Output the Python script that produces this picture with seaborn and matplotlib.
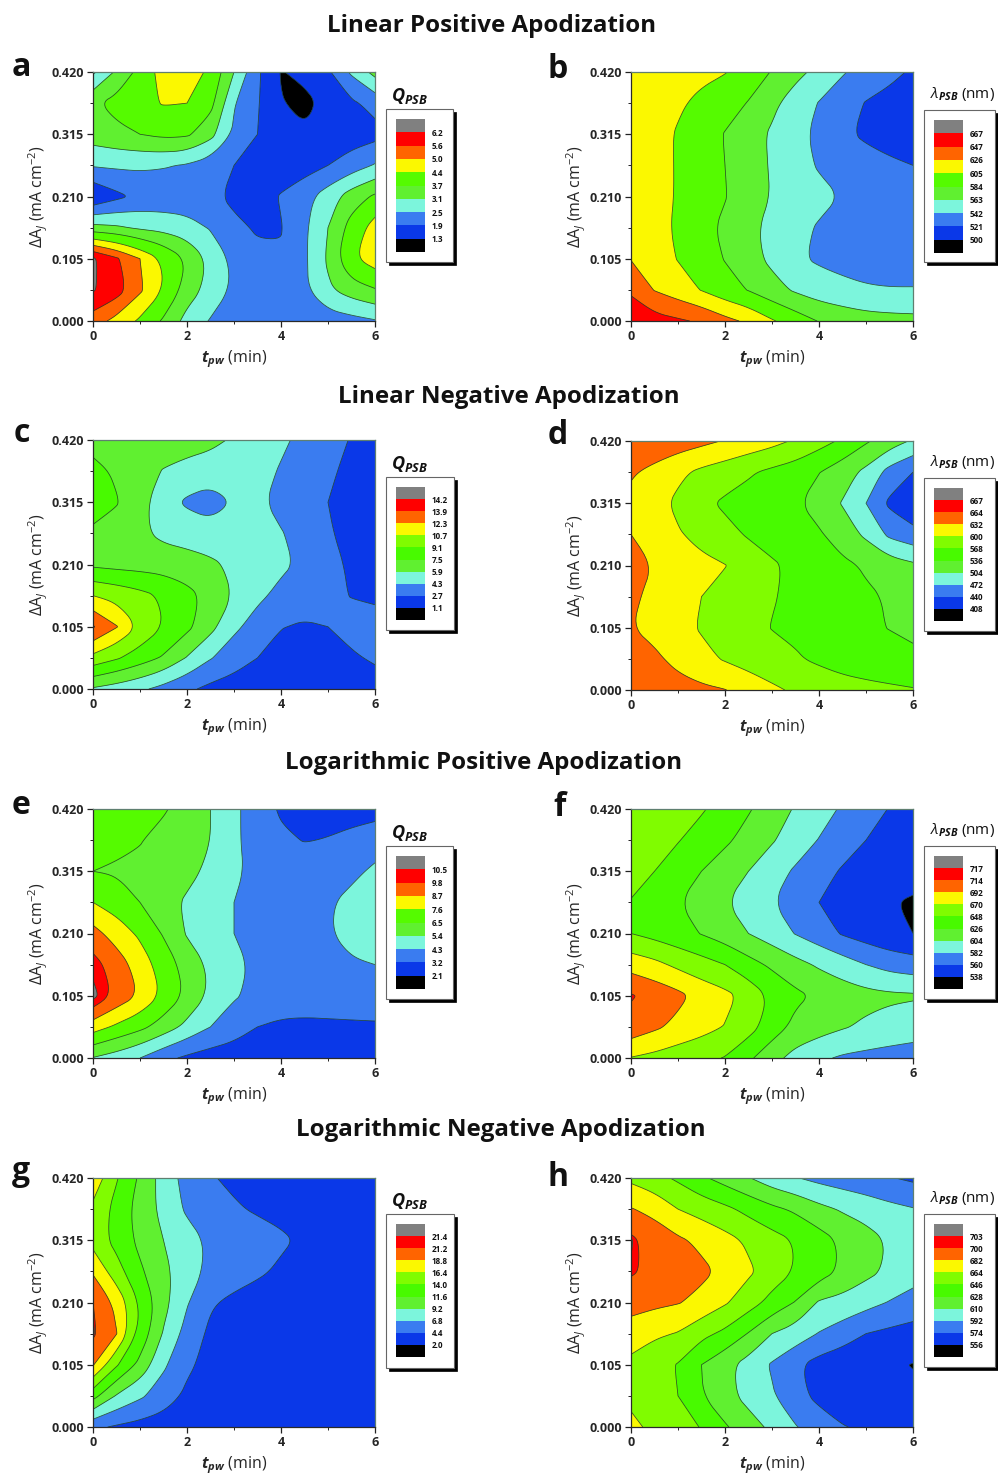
import numpy as np
import matplotlib
matplotlib.use("Agg")
import matplotlib.pyplot as plt
from matplotlib.colors import ListedColormap
from matplotlib.patches import Rectangle
from matplotlib.path import Path
from matplotlib.ticker import MultipleLocator, FixedLocator
import seaborn as sns

FONT = "Open Sans"

t_pw = [0, 0.5, 1, 1.5, 2, 2.5, 3, 3.5, 4, 4.5, 5, 5.5, 6]
delta_a = [0.42, 0.3675, 0.315, 0.2625, 0.21, 0.1575, 0.105, 0.0525, 0.0]
y_ticks = [0.0, 0.105, 0.21, 0.315, 0.42]
x_ticks = [0, 2, 4, 6]

# each grid: rows from 0.420 down to 0.000, columns t_pw 0..6
q_a = [
    [2.4, 3.2, 3.9, 4.7, 4.9, 4.2, 3.1, 2.0, 1.27, 1.45, 1.8, 2.6, 3.3],
    [3.6, 3.9, 4.2, 4.45, 4.4, 3.9, 2.55, 1.95, 1.33, 1.15, 1.45, 1.8, 2.1],
    [3.4, 3.55, 3.7, 3.85, 3.8, 3.3, 2.4, 1.9, 1.5, 1.38, 1.55, 1.6, 1.7],
    [2.55, 2.6, 2.6, 2.55, 2.45, 2.2, 1.9, 1.7, 1.55, 1.65, 1.9, 2.2, 2.55],
    [1.35, 1.75, 2.05, 2.1, 2.1, 2.0, 1.8, 1.6, 1.95, 2.3, 2.8, 3.4, 3.8],
    [3.3, 3.2, 3.0, 2.9, 2.75, 2.45, 2.0, 1.85, 1.87, 2.4, 3.1, 3.95, 4.7],
    [6.3, 5.7, 5.0, 4.3, 3.65, 2.95, 2.35, 2.0, 1.95, 2.4, 3.2, 4.3, 4.75],
    [6.25, 5.9, 5.1, 4.4, 3.4, 2.9, 2.4, 2.1, 2.1, 2.4, 3.0, 3.4, 3.65],
    [5.3, 4.8, 4.3, 3.6, 2.9, 2.45, 2.2, 2.1, 2.1, 2.15, 2.2, 2.3, 2.45],
]
lam_b = [
    [618, 615, 612, 610, 606, 594, 583, 569, 557, 544, 533, 525, 519],
    [622, 615, 608, 600, 592, 583, 568, 553, 541, 529, 520, 516, 513],
    [622, 613, 603, 594, 583, 572, 560, 547, 538, 524, 518, 514, 512],
    [623, 614, 603, 593, 584, 572, 561, 550, 540, 533, 528, 524, 521],
    [623, 614, 603, 594, 585, 573, 562, 556, 548, 541, 536, 533, 531],
    [625, 614, 601, 590, 580, 568, 557, 548, 540, 535, 532, 530, 529],
    [625, 615, 604, 594, 583, 571, 558, 545, 539, 536, 534, 533, 533],
    [644, 625, 615, 604, 592, 583, 571, 560, 552, 547, 544, 543, 543],
    [660, 655, 650, 644, 632, 622, 607, 595, 583, 577, 572, 570, 569],
]
q_c = [
    [7.0, 6.9, 6.9, 6.8, 6.7, 6.3, 5.7, 5.1, 4.5, 4.0, 3.3, 2.6, 2.4],
    [7.9, 7.3, 6.6, 5.8, 5.3, 5.1, 5.0, 4.7, 4.2, 3.6, 2.9, 2.4, 2.3],
    [8.0, 7.6, 6.4, 5.0, 4.05, 3.55, 4.4, 4.6, 3.8, 3.4, 2.7, 2.3, 2.2],
    [7.3, 6.9, 6.2, 5.5, 5.2, 5.0, 4.9, 4.7, 4.4, 3.7, 2.8, 2.4, 2.3],
    [7.2, 7.0, 6.9, 6.8, 6.6, 6.2, 5.6, 5.1, 4.6, 4.0, 3.1, 2.5, 2.35],
    [10.7, 10.2, 9.6, 8.9, 8.0, 7.0, 5.8, 4.6, 3.9, 3.3, 3.0, 2.65, 2.45],
    [14.05, 12.4, 10.5, 9.1, 7.9, 6.4, 4.6, 3.7, 2.75, 2.55, 2.7, 3.2, 3.3],
    [10.2, 9.3, 8.3, 7.3, 5.8, 4.4, 3.5, 2.7, 2.2, 1.9, 2.1, 2.5, 2.9],
    [5.7, 5.2, 4.6, 3.8, 3.0, 2.3, 1.9, 1.7, 1.6, 1.6, 1.7, 1.9, 2.0],
]
lam_d = [
    [660, 654, 648, 640, 630, 620, 610, 596, 580, 563, 540, 520, 500],
    [636, 623, 607, 593, 583, 572, 561, 552, 537, 518, 496, 460, 440],
    [622, 612, 593, 575, 563, 555, 548, 540, 522, 502, 472, 434, 412],
    [632, 618, 603, 590, 577, 565, 553, 544, 540, 520, 498, 465, 452],
    [650, 630, 618, 608, 601, 585, 573, 560, 553, 543, 532, 520, 510],
    [637, 625, 612, 600, 590, 578, 570, 562, 555, 548, 541, 533, 527],
    [633, 622, 610, 597, 587, 578, 567, 562, 555, 548, 541, 535, 528],
    [650, 638, 623, 609, 597, 588, 579, 571, 563, 556, 552, 548, 544],
    [655, 650, 644, 638, 633, 618, 606, 595, 586, 580, 576, 573, 570],
]
q_e = [
    [6.9, 6.9, 6.8, 6.6, 6.1, 5.4, 4.5, 3.8, 3.05, 2.8, 2.8, 2.9, 3.0],
    [6.9, 6.7, 6.55, 6.2, 5.8, 5.4, 4.5, 3.8, 3.4, 3.15, 3.25, 3.4, 3.5],
    [6.5, 6.4, 6.3, 6.1, 5.8, 5.1, 4.5, 4.0, 3.9, 3.85, 3.85, 3.9, 4.6],
    [7.6, 7.1, 6.5, 5.9, 5.2, 4.8, 4.3, 3.95, 3.9, 3.95, 4.1, 4.8, 5.0],
    [9.1, 8.2, 7.4, 6.4, 5.3, 4.8, 4.3, 3.95, 3.9, 3.95, 4.15, 4.9, 5.15],
    [10.2, 9.3, 8.2, 7.1, 6.1, 5.2, 4.55, 4.1, 3.95, 3.9, 3.9, 4.1, 4.3],
    [10.8, 9.5, 8.6, 7.4, 6.3, 5.2, 4.4, 4.05, 3.95, 3.9, 3.9, 3.9, 3.85],
    [8.1, 7.4, 6.8, 6.0, 5.1, 4.3, 3.8, 3.2, 2.95, 2.9, 2.95, 3.0, 3.05],
    [5.35, 4.9, 4.3, 3.5, 3.0, 2.7, 2.5, 2.4, 2.35, 2.35, 2.35, 2.4, 2.4],
]
lam_f = [
    [669, 664, 659, 650, 640, 628, 615, 602, 592, 579, 570, 559, 555],
    [663, 658, 649, 640, 630, 618, 606, 594, 581, 569, 560, 552, 548],
    [655, 648, 638, 626, 614, 604, 591, 579, 567, 558, 549, 544, 548],
    [647, 638, 627, 616, 605, 594, 583, 571, 560, 553, 548, 539.5, 535],
    [648, 641, 634, 625, 615, 604, 593, 581, 570, 558, 550, 543, 538],
    [683, 676, 665, 657, 648, 634, 622, 611, 601, 592, 582, 574, 570],
    [716, 707, 698, 684, 676, 663, 644, 631, 622, 616, 611, 608, 607],
    [706, 696, 686, 678, 669, 657, 637, 620, 613, 606, 600, 595, 589],
    [669, 664, 658, 653, 647, 630, 612, 596, 586, 579, 576, 574, 575],
]
q_g = [
    [18.0, 14.2, 11.2, 8.2, 5.9, 4.6, 3.9, 3.6, 3.4, 3.3, 3.2, 3.2, 3.2],
    [15.8, 13.2, 10.6, 8.5, 6.4, 5.6, 4.7, 4.1, 3.7, 3.4, 3.3, 3.2, 3.2],
    [15.5, 13.2, 11.0, 9.2, 7.9, 6.3, 5.9, 5.5, 4.8, 4.0, 3.5, 3.3, 3.2],
    [18.5, 15.0, 12.0, 9.8, 7.9, 6.2, 5.6, 4.8, 4.0, 3.5, 3.3, 3.2, 3.2],
    [21.2, 18.2, 13.8, 10.0, 7.0, 4.7, 3.8, 3.3, 3.1, 3.1, 3.1, 3.1, 3.1],
    [21.6, 18.9, 13.3, 9.0, 5.9, 3.9, 3.3, 3.1, 3.0, 3.0, 3.0, 3.0, 3.0],
    [19.0, 14.3, 10.9, 7.2, 4.9, 3.5, 3.0, 2.9, 2.9, 2.9, 2.9, 2.9, 2.9],
    [12.5, 9.0, 7.2, 5.6, 3.9, 3.1, 2.9, 2.9, 2.9, 2.9, 2.9, 2.9, 2.9],
    [4.9, 4.1, 3.6, 3.2, 2.9, 2.8, 2.8, 2.8, 2.8, 2.8, 2.8, 2.8, 2.8],
]
lam_h = [
    [660, 652, 643, 631, 621, 611, 600, 593, 587, 583, 580, 575, 571],
    [683, 677, 664, 657, 650, 641, 632, 625, 615, 608, 602, 597, 593],
    [704, 692, 685, 678, 670, 661, 653, 645, 636, 625, 618, 608, 602],
    [702, 696, 690, 686, 678, 667, 656, 645, 637, 625, 615, 607, 600],
    [690, 686, 683, 677, 666, 654, 640, 627, 608, 604, 598, 591, 585],
    [672, 667, 663, 651, 642, 627, 610, 602, 591, 583, 574, 570, 567],
    [660, 652, 645, 628, 615, 603, 590, 577, 567, 562, 560, 558, 555.5],
    [660, 652, 646, 629, 616, 604, 594, 580, 569, 563, 561, 560, 559],
    [668, 660, 654, 645, 630, 618, 606, 593, 584, 575, 571, 568, 566],
]

levels_a = [1.3, 1.9, 2.5, 3.1, 3.7, 4.4, 5.0, 5.6, 6.2]
levels_b = [500, 521, 542, 563, 584, 605, 626, 647, 667]
levels_c = [1.1, 2.7, 4.3, 5.9, 7.5, 9.1, 10.7, 12.3, 13.9, 14.2]
levels_d = [408, 440, 472, 504, 536, 568, 600, 632, 664, 667]
levels_e = [2.1, 3.2, 4.3, 5.4, 6.5, 7.6, 8.7, 9.8, 10.5]
levels_f = [538, 560, 582, 604, 626, 648, 670, 692, 714, 717]
levels_g = [2.0, 4.4, 6.8, 9.2, 11.6, 14.0, 16.4, 18.8, 21.2, 21.4]
levels_h = [556, 574, 592, 610, 628, 646, 664, 682, 700, 703]

colors_10 = ["#000000", "#0A38E8", "#3A7CF0", "#7CF5DC", "#60F030", "#55FB00",
             "#FBF800", "#FF6400", "#FF0000", "#808080"]
colors_11 = ["#000000", "#0A38E8", "#3A7CF0", "#7CF5DC", "#60F030", "#48FA00", "#80FC00",
             "#FBF800", "#FF6400", "#FF0000", "#808080"]

titles = ["Linear Positive Apodization", "Linear Negative Apodization",
          "Logarithmic Positive Apodization", "Logarithmic Negative Apodization"]
title_pos = [(492, 26), (509, 397), (484, 763), (501, 1130)]

W, H = 998, 1479


def fx(px):
    return px / W


def fy(px):
    return 1 - px / H


def cut_corners(v, closed):
    # corner cutting that leaves points on the plot frame where they are
    on_frame = (np.abs(v[:, 0]) < 1e-6) | (np.abs(v[:, 0] - 6) < 1e-6) \
        | (np.abs(v[:, 1]) < 1e-6) | (np.abs(v[:, 1] - 0.42) < 1e-6)
    out = []
    n = len(v)
    for i in range(n):
        if on_frame[i] or (not closed and i in (0, n - 1)):
            out.append(v[i])
            continue
        out.append(0.75 * v[i] + 0.25 * v[(i - 1) % n])
        out.append(0.75 * v[i] + 0.25 * v[(i + 1) % n])
    return np.array(out)


def rounded(path, passes=3):
    if path.codes is None or len(path.vertices) < 3:
        return path
    starts = np.flatnonzero(path.codes == Path.MOVETO)
    verts, codes = [], []
    for idx in np.split(np.arange(len(path.vertices)), starts[1:]):
        v = path.vertices[idx]
        closed = path.codes[idx[-1]] == Path.CLOSEPOLY or np.allclose(v[0], v[-1])
        if closed:
            v = v[:-1]
        if len(v) >= 3:
            for _ in range(passes):
                v = cut_corners(v, closed)
        if closed:
            v = np.vstack([v, v[:1]])
        c = np.full(len(v), Path.LINETO)
        c[0] = Path.MOVETO
        if closed:
            c[-1] = Path.CLOSEPOLY
        verts.append(v)
        codes.append(c)
    return Path(np.vstack(verts), np.concatenate(codes))


def panel(fig, letter, grid, levels, box, letter_pos, left, top, kind):
    ax = fig.add_axes([fx(left), fy(top + 249), 282 / W, 249 / H])
    colors = colors_11 if len(levels) == 10 else colors_10
    z = np.array(grid, dtype=float)
    fill = ax.contourf(t_pw, delta_a, z, levels=levels, colors=colors, extend="both", antialiased=True)
    fill.set_paths([rounded(p) for p in fill.get_paths()])
    fill.set_edgecolor("face")
    fill.set_linewidth(0.2)
    lines = ax.contour(t_pw, delta_a, z, levels=levels, colors="#14331a", linewidths=0.55, alpha=0.85)
    lines.set_paths([rounded(p) for p in lines.get_paths()])
    ax.set_xlim(0, 6)
    ax.set_ylim(0, 0.42)
    ax.set_xticks(x_ticks)
    ax.set_yticks(y_ticks)
    ax.set_yticklabels([f"{v:.3f}" for v in y_ticks])
    ax.xaxis.set_minor_locator(MultipleLocator(1))
    ax.yaxis.set_minor_locator(FixedLocator([0.0525, 0.1575, 0.2625, 0.3675]))
    ax.tick_params(which="major", length=4, width=0.9, labelsize=9, pad=2.5, color="#222222")
    ax.tick_params(which="minor", length=2.2, width=0.7, color="#222222")
    for lab in ax.get_xticklabels() + ax.get_yticklabels():
        lab.set_fontweight("bold")
    for name, sp in ax.spines.items():
        sp.set_linewidth(0.9)
        sp.set_color("#2a2a2a" if name in ("left", "bottom") else "#5f7f70")
        sp.set_zorder(5)
    ax.set_xlabel(r"$\mathbfit{t}_{\mathbfit{pw}}$ (min)", fontsize=11.5)
    ax.set_ylabel(r"$\Delta$A$_{\mathit{J}}$ (mA cm$^{-2}$)", fontsize=11.5)
    ax.xaxis.set_label_coords(0.5, -27 / 249)
    ax.yaxis.set_label_coords(-44 / 282, 0.5)

    fig.text(fx(letter_pos[0]), fy(letter_pos[1]), letter, fontsize=23, fontweight="bold",
             ha="center", va="center")

    # legend box with drop shadow
    bx0, by0, bx1, by1 = box
    fig.add_artist(Rectangle((fx(bx0 + 3), fy(by1 + 3)), (bx1 - bx0) / W, (by1 - by0) / H,
                             transform=fig.transFigure, fc="black", ec="black", lw=0.5))
    fig.add_artist(Rectangle((fx(bx0), fy(by1)), (bx1 - bx0) / W, (by1 - by0) / H,
                             transform=fig.transFigure, fc="white", ec="#666666", lw=0.8))
    n = len(colors)
    cax = fig.add_axes([fx(bx0 + 10), fy(by0 + 143), 29 / W, 133 / H])
    cax.set_zorder(5)
    sns.heatmap(np.arange(n)[::-1].reshape(-1, 1), cmap=ListedColormap(colors), cbar=False,
                ax=cax, xticklabels=False, yticklabels=False, vmin=-0.5, vmax=n - 0.5)
    band = 133 / n
    for i, lev in enumerate(levels[::-1]):
        fig.text(fx(bx0 + 46), fy(by0 + 10 + band * (i + 1) + 1), f"{lev}", fontsize=5.8,
                 fontweight="bold", va="center", ha="left")
    if kind == "q":
        fig.text(fx(bx0 + 5), fy(by0 - 13), r"$\mathbfit{Q}_{\mathbfit{PSB}}$", fontsize=13,
                 ha="left", va="center")
    else:
        fig.text(fx(bx0 + 6), fy(by0 - 16), r"$\lambda_{\mathbfit{PSB}}$ (nm)", fontsize=11,
                 ha="left", va="center")


def main():
    sns.set_theme(style="ticks")
    plt.rcParams["font.family"] = [FONT, "DejaVu Sans"]
    plt.rcParams["mathtext.fontset"] = "custom"
    plt.rcParams["mathtext.rm"] = FONT
    plt.rcParams["mathtext.it"] = FONT + ":italic"
    plt.rcParams["mathtext.bf"] = FONT + ":bold"
    plt.rcParams["mathtext.bfit"] = FONT + ":italic:bold"
    plt.rcParams["mathtext.fallback"] = "cm"
    plt.rcParams["text.color"] = "#111111"

    fig = plt.figure(figsize=(W / 100, H / 100), dpi=100)

    for text, (x, y) in zip(titles, title_pos):
        fig.text(fx(x), fy(y), text, fontsize=17.4, fontweight="bold", ha="center", va="center")

    panel(fig, "a", q_a, levels_a, (386, 109, 453, 262), (21, 67), 93, 72, "q")
    panel(fig, "b", lam_b, levels_b, (924, 110, 995, 262), (558, 69), 631, 72, "lam")
    panel(fig, "c", q_c, levels_c, (386, 477, 454, 630), (22, 433), 93, 440, "q")
    panel(fig, "d", lam_d, levels_d, (924, 478, 995, 631), (558, 435), 631, 441, "lam")
    panel(fig, "e", q_e, levels_e, (386, 846, 453, 999), (21, 806), 93, 809, "q")
    panel(fig, "f", lam_f, levels_f, (924, 846, 995, 999), (560, 807), 631, 809, "lam")
    panel(fig, "g", q_g, levels_g, (386, 1214, 454, 1368), (21, 1172), 93, 1178, "q")
    panel(fig, "h", lam_h, levels_h, (924, 1214, 995, 1367), (558, 1177), 631, 1178, "lam")

    fig.savefig("out.png", dpi=100)


if __name__ == "__main__":
    main()
